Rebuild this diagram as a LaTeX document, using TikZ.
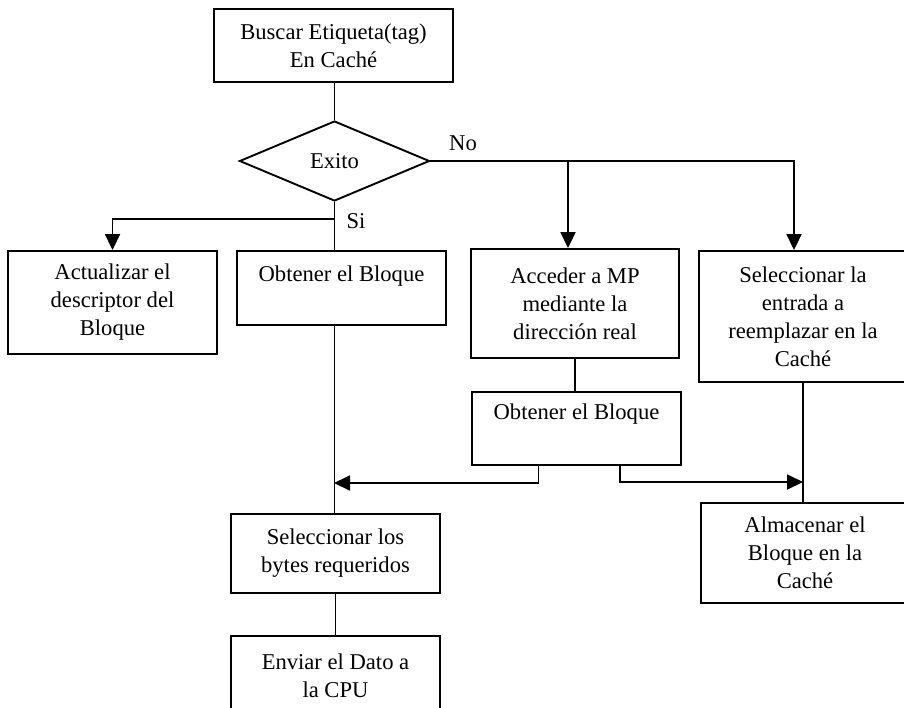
\documentclass[tikz,border=0pt]{standalone}
\usepackage{fontspec}
\setmainfont{Liberation Serif}
\usetikzlibrary{shapes.geometric, arrows.meta, positioning}

\begin{document}
\begin{tikzpicture}[x=0.5pt, y=-0.5pt, line width=0.95pt,
    box/.style={rectangle, draw, minimum width=104.5pt, align=center, font=\fontsize{11.3}{14}\selectfont},
    decision/.style={diamond, draw, aspect=2.4, inner sep=0pt, minimum width=95pt, minimum height=40pt, font=\fontsize{11.3}{14}\selectfont},
    lbl/.style={font=\fontsize{11.3}{14}\selectfont},
    arr/.style={-{Triangle[length=8pt, width=7.5pt]}}
]
\useasboundingbox (0,0) rectangle (904,707);
\node[box, minimum width=119.5pt, minimum height=36.5pt] (buscar) at (333.5,45.5) {Buscar Etiqueta(tag)\\ En Caché};
\node[decision] (exito) at (334.5,161) {Exito};
\node[box, minimum height=51.5pt] (actualizar) at (112.5,302.5) {Actualizar el\\ descriptor del\\ Bloque};
\node[box, minimum height=37pt] (obtener) at (341.5,288) {Obtener el Bloque\\ ~};
\node[box, minimum width=104pt, minimum height=54.5pt] (acceder) at (575,303.5) {Acceder a MP\\ mediante la\\ dirección real};
\node[box, minimum width=104pt, minimum height=65.5pt] (entrada) at (803,316.5) {Seleccionar la\\ entrada a\\ reemplazar en la\\ Caché};
\node[box, minimum height=36.5pt] (obtenerb) at (576.5,428.5) {Obtener el Bloque\\[3pt] ~};
\node[box, minimum height=39.5pt] (bytes) at (335.5,553.5) {Seleccionar los\\ bytes requeridos};
\node[box, minimum height=40pt] (enviar) at (335.5,676) {Enviar el Dato a\\ la CPU};
\node[box, minimum width=104pt, minimum height=50pt] (almacenar) at (805,553) {Almacenar el\\ Bloque en la\\ Caché};
\node[lbl] (nolbl) at (463,143) {No};
\node[lbl] (silbl) at (356,221) {Si};

\coordinate (si) at ([yshift=-8.5pt]exito.south);
\coordinate (juntaizq) at (334,483);
\coordinate (juntader) at (803,482);

\draw (exito.north |- buscar.south) -- (exito.north);
\draw (exito.south) -- (exito.south |- obtener.north);
\draw[arr] (si) -| (actualizar.north);
\draw[arr] (exito.east) -| ([xshift=-4.5pt]entrada.north);
\draw[arr] ([xshift=-3.5pt]acceder.north |- exito.east) -- ([xshift=-3.5pt]acceder.north);
\draw (exito.south |- obtener.south) -- (exito.south |- bytes.north);
\draw (acceder.south) -- (acceder.south |- obtenerb.north);
\draw[arr] ([xshift=-19pt]obtenerb.south) |- (juntaizq);
\draw[arr] ([xshift=21.75pt]obtenerb.south) |- (juntader);
\draw (entrada.south) -- (entrada.south |- almacenar.north);
\draw (bytes.south) -- (enviar.north);
\end{tikzpicture}
\end{document}
